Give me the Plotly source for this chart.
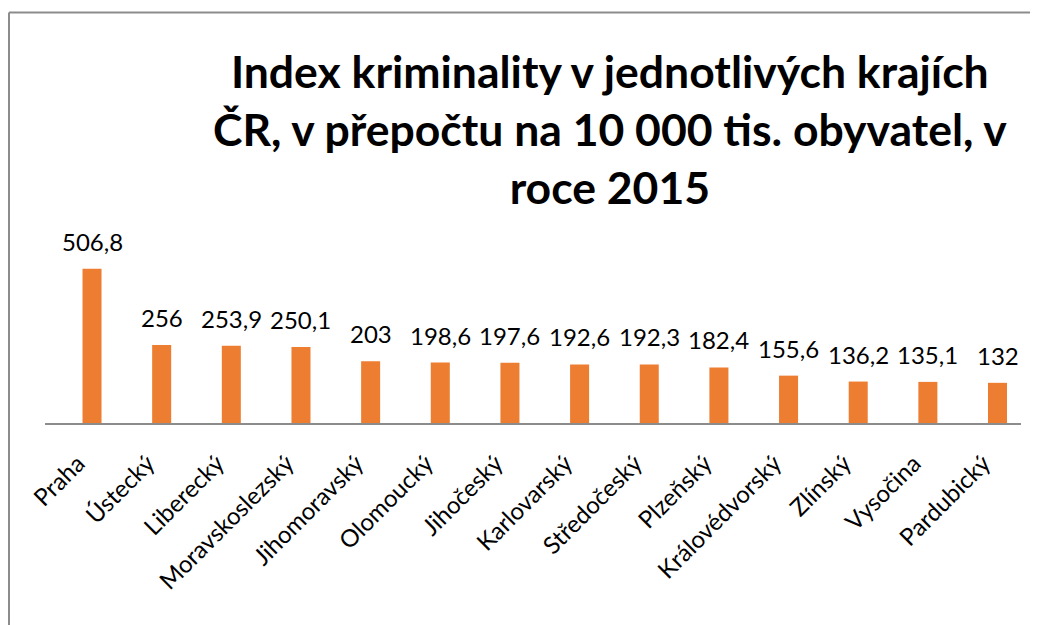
import plotly.graph_objects as go

categories = ["Praha", "Ústecký", "Liberecký", "Moravskoslezský", "Jihomoravský",
              "Olomoucký", "Jihočeský", "Karlovarský", "Středočeský", "Plzeňský",
              "Královédvorský", "Zlínský", "Vysočina", "Pardubický"]
values = [506.8, 256, 253.9, 250.1, 203, 198.6, 197.6, 192.6, 192.3, 182.4,
          155.6, 136.2, 135.1, 132]
title_lines = ["Index kriminality v jednotlivých krajích",
               "ČR, v přepočtu na 10 000 tis. obyvatel, v",
               "roce 2015"]

labels = [f"{v:g}".replace(".", ",") for v in values]
FONT = "Lato"
OFF = 8  # default page body margin
W, H = 1038 - OFF, 625 - OFF
ml, mr, mt, mb = 45 - OFF, 17, 241 - OFF, 202
pw = W - ml - mr
ph = H - mt - mb


def px_x(x):
    return (x - OFF - ml) / pw


def px_y(y):
    return (H - mb - (y - OFF)) / ph


fig = go.Figure(go.Bar(x=categories, y=values, marker=dict(color="#ED7D31", line=dict(width=0)),
                       width=0.273, hoverinfo="x+y"))

for c, v, t in zip(categories, values, labels):
    fig.add_annotation(x=c, y=v, text=t, showarrow=False, yanchor="bottom", yshift=11,
                       font=dict(family=FONT, size=24, color="#000000"))

fig.add_annotation(xref="paper", yref="paper", x=px_x(610), y=px_y(128),
                   yanchor="middle", xanchor="center", showarrow=False,
                   text="<b>" + "<br>".join(title_lines) + "</b>", align="center",
                   font=dict(family=FONT, size=44.5, color="#000000"))

# chart border (left and top edges)
fig.add_shape(type="line", xref="paper", yref="paper", x0=px_x(9), x1=px_x(9), y0=px_y(12.5),
              y1=px_y(700), line=dict(color="#8c8c8c", width=2))
fig.add_shape(type="line", xref="paper", yref="paper", x0=px_x(9), x1=px_x(1100),
              y0=px_y(12.5), y1=px_y(12.5), line=dict(color="#8c8c8c", width=2))

n = len(categories)
fig.update_layout(
    width=W, height=H, margin=dict(l=ml, r=mr, t=mt, b=mb, autoexpand=False),
    paper_bgcolor="white", plot_bgcolor="white", showlegend=False,
    xaxis=dict(type="category", range=[-0.675, n - 1 + 0.337], showline=True,
               linecolor="#8c8c8c", linewidth=2,
               ticks="", tickangle=-45, showgrid=False, zeroline=False,
               ticklabelstandoff=15, ticklabelshift=-14,
               tickfont=dict(family=FONT, size=24, color="#000000")),
    yaxis=dict(range=[0, 598], visible=False, showgrid=False, zeroline=False),
)
fig.write_html("out.html")
